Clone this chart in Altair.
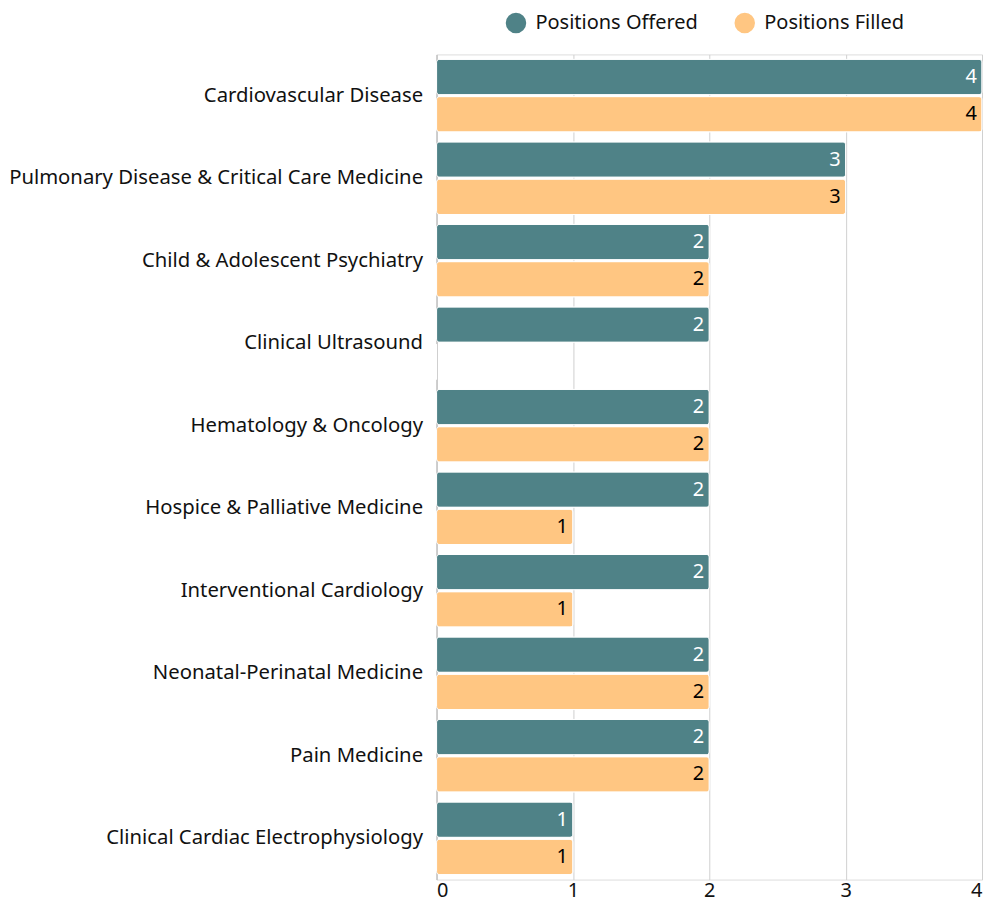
import altair as alt
import pandas as pd

categories = [
    "Cardiovascular Disease",
    "Pulmonary Disease & Critical Care Medicine",
    "Child & Adolescent Psychiatry",
    "Clinical Ultrasound",
    "Hematology & Oncology",
    "Hospice & Palliative Medicine",
    "Interventional Cardiology",
    "Neonatal-Perinatal Medicine",
    "Pain Medicine",
    "Clinical Cardiac Electrophysiology",
]
offered = [4, 3, 2, 2, 2, 2, 2, 2, 2, 1]
filled = [4, 3, 2, 0, 2, 1, 1, 2, 2, 1]
series = ["Positions Offered", "Positions Filled"]
colors = ["#4F8287", "#FFC682"]
text_colors = ["white", "black"]

rows = []
for c, o, f in zip(categories, offered, filled):
    rows.append({"cat": c, "series": series[0], "value": o, "tc": text_colors[0]})
    rows.append({"cat": c, "series": series[1], "value": f, "tc": text_colors[1]})
df = pd.DataFrame(rows)

FONT = "Noto Sans"
FS = 20

y = alt.Y("cat:N", sort=categories, title=None,
          scale=alt.Scale(paddingInner=0.12, paddingOuter=0.06),
          axis=alt.Axis(labelFontSize=20.3, labelColor="#111", labelPadding=14,
                        ticks=False, domain=True, domainColor="#bbb",
                        labelFont=FONT, labelLimit=500))
yoff = alt.YOffset("series:N", sort=series, scale=alt.Scale(paddingInner=0.05))
x = alt.X("value:Q", title=None,
          scale=alt.Scale(domain=[0, 4], nice=False),
          axis=alt.Axis(values=[0, 1, 2, 3, 4], format="d", grid=True,
                        gridColor="#d0d0d0", ticks=False, domain=False,
                        labelFontSize=FS, labelColor="#111", labelFont=FONT,
                        labelPadding=1))

bars = alt.Chart(df).mark_bar(cornerRadius=3, stroke="white", strokeWidth=1).encode(
    y=y, yOffset=yoff, x=x,
    color=alt.Color("series:N", sort=series,
                    scale=alt.Scale(domain=series, range=colors),
                    legend=alt.Legend(orient="none", legendX=69, legendY=-42,
                                      title=None, symbolType="circle",
                                      symbolSize=420, labelFontSize=FS,
                                      labelFont=FONT, labelColor="#111",
                                      columnPadding=36, symbolStrokeWidth=0,
                                      labelOffset=9, labelLimit=400,
                                      direction="horizontal")),
)

labels = alt.Chart(df).transform_filter("datum.value > 0").mark_text(
    align="right", baseline="middle", dx=-5, fontSize=FS, font=FONT
).encode(
    y=y, yOffset=yoff, x=x,
    text=alt.Text("value:Q", format="d"),
    color=alt.Color("tc:N", scale=None, legend=None),
)

chart = alt.layer(bars, labels).properties(
    width=546, height=826,
    padding={"left": 0, "top": 4, "right": 0, "bottom": 0},
).configure_view(stroke=None).configure(font=FONT)

chart.save("out.html", embed_options={"renderer": "svg", "actions": False})
